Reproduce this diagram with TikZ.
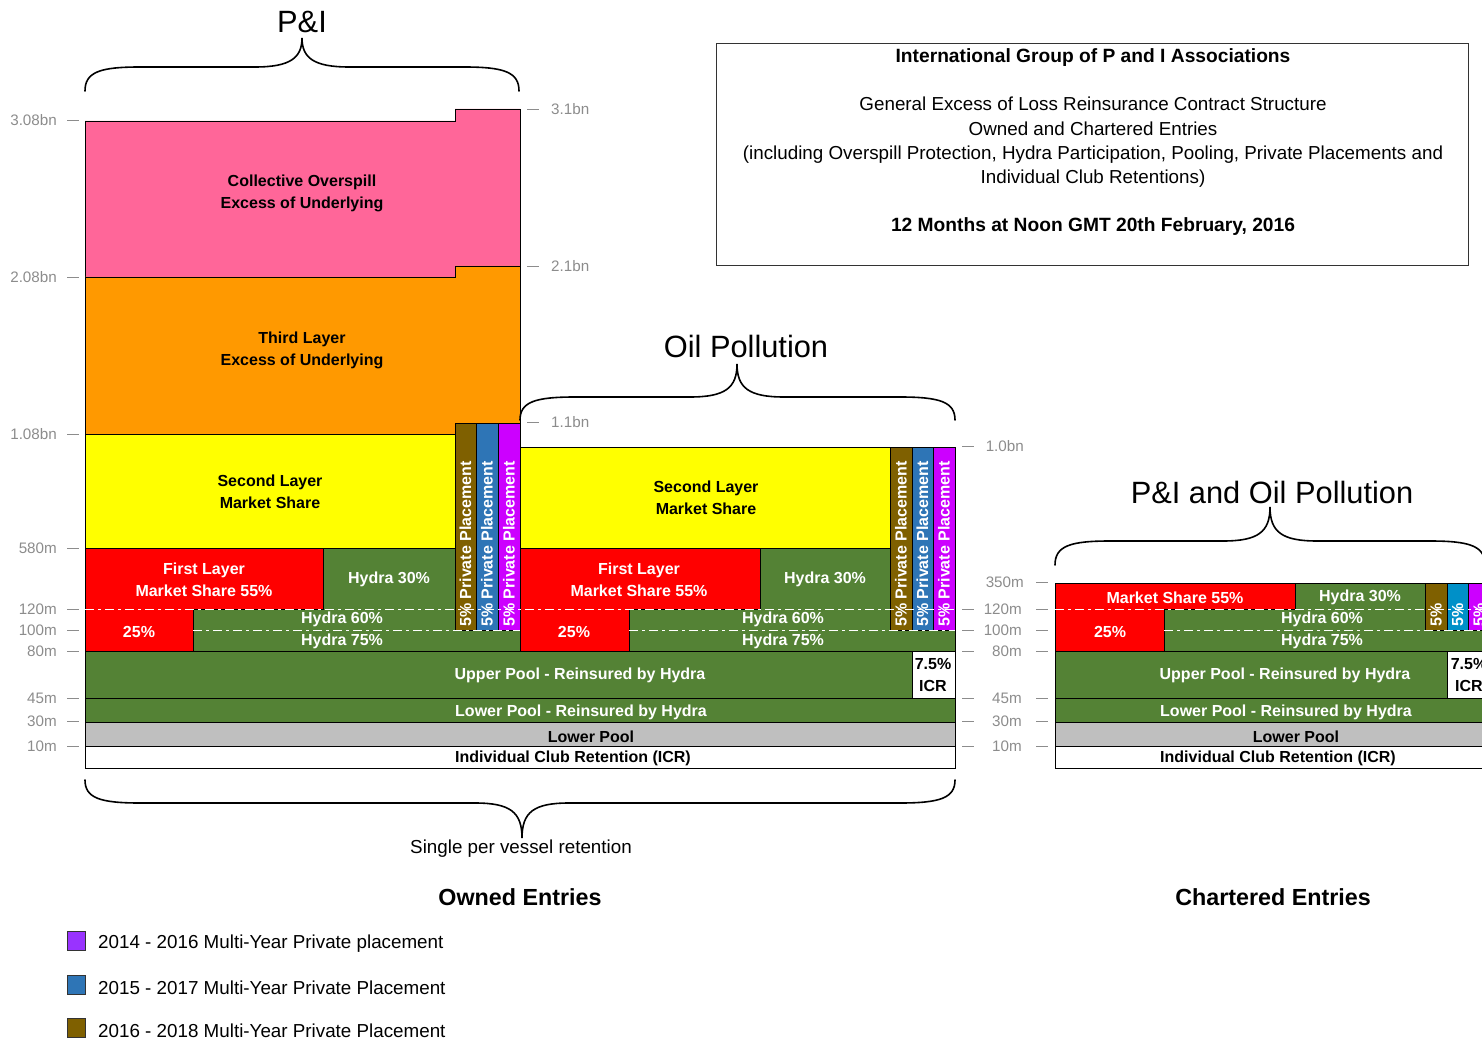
\documentclass[tikz,border=0pt]{standalone}
\usepackage{fontspec}
\setmainfont{Liberation Sans}
\usepackage{tikz}

\definecolor{overspill}{HTML}{FF6699}
\definecolor{thirdlay}{HTML}{FF9900}
\definecolor{secondlay}{HTML}{FFFF00}
\definecolor{firstlay}{HTML}{FF0000}
\definecolor{hydra}{HTML}{548235}
\definecolor{lowpool}{HTML}{BFBFBF}
\definecolor{ppbrown}{HTML}{7F6000}
\definecolor{ppblue}{HTML}{2E75B6}
\definecolor{ppcyan}{HTML}{0090C8}
\definecolor{ppmag}{HTML}{CC00FF}
\definecolor{ppviolet}{HTML}{9933FF}
\definecolor{axisgray}{HTML}{8C8C8C}

\tikzset{
  band/.style={draw=black, line width=0.9pt},
  lbl/.style={font=\bfseries\fontsize{16}{22}\selectfont, align=center, inner sep=0pt, yshift=-1.5pt},
  wlbl/.style={lbl, text=white},
  pplbl/.style={font=\bfseries\fontsize{16}{17}\selectfont, text=white, rotate=90, anchor=west, inner sep=0pt},
  tk/.style={axisgray, line width=0.8pt},
  ax/.style={text=axisgray, font=\fontsize{15.2}{16}\selectfont, inner sep=0pt},
  layercut/.style={white, line width=0.9pt, dash pattern=on 9pt off 4pt on 3pt off 4pt},
  brc/.style={line width=1.6pt, line cap=round},
  ttl/.style={font=\fontsize{30.8}{32}\selectfont, inner sep=0pt, yshift=-1.5pt},
  sub/.style={font=\fontsize{18.8}{24.3}\selectfont, align=center, inner sep=0pt, yshift=-2.5pt},
  bsub/.style={sub, font=\bfseries\fontsize{19.2}{24.3}\selectfont},
}

\begin{document}
\begin{tikzpicture}[x=1pt, y=-1pt]
    \useasboundingbox (0,0) rectangle (1482,1040);

    % P&I column
    \draw[band, fill=overspill] (85,121) -- (455,121) -- (455,109) -- (520,109) -- (520,266) -- (455,266) -- (455,277) -- (85,277) -- cycle;
    \draw[band, fill=thirdlay] (85,277) -- (455,277) -- (455,266) -- (520,266) -- (520,423) -- (455,423) -- (455,434) -- (85,434) -- cycle;
    \draw[band, fill=secondlay] (85,434) rectangle (455,548);
    \draw[band, fill=firstlay] (85,548) -- (323,548) -- (323,609) -- (193,609) -- (193,651) -- (85,651) -- cycle;
    \draw[band, fill=hydra] (323,548) -- (455,548) -- (455,630) -- (520,630) -- (520,651) -- (193,651) -- (193,609) -- (323,609) -- cycle;

    % Oil pollution column
    \draw[band, fill=secondlay] (520,447) rectangle (890,548);
    \draw[band, fill=firstlay] (520,548) -- (760,548) -- (760,609) -- (629,609) -- (629,651) -- (520,651) -- cycle;
    \draw[band, fill=hydra] (760,548) -- (890,548) -- (890,630) -- (955,630) -- (955,651) -- (629,651) -- (629,609) -- (760,609) -- cycle;

    % private placements
    \foreach \a/\b/\t/\c in {455/476/423/ppbrown, 476/498/423/ppblue, 498/520/423/ppmag,
                             890/912/447/ppbrown, 912/933/447/ppblue, 933/955/447/ppmag}
        \draw[band, fill=\c] (\a,\t) rectangle (\b,630);

    % pools and retention
    \draw[band, fill=hydra] (85,651) rectangle (912,698);
    \draw[band, fill=white] (912,651) rectangle (955,698);
    \draw[band, fill=hydra] (85,698) rectangle (955,722);
    \draw[band, fill=lowpool] (85,722) rectangle (955,746);
    \draw[band, fill=white] (85,746) rectangle (955,768);

    \draw[layercut] (85,609) -- (955,609);
    \draw[layercut] (193,630) -- (520,630);
    \draw[layercut] (629,630) -- (955,630);

    % chartered entries
    \draw[band, fill=firstlay] (1055,583) -- (1295,583) -- (1295,609) -- (1164,609) -- (1164,651) -- (1055,651) -- cycle;
    \draw[band, fill=hydra] (1295,583) -- (1425,583) -- (1425,630) -- (1495,630) -- (1495,651) -- (1164,651) -- (1164,609) -- (1295,609) -- cycle;
    \foreach \a/\b/\c in {1425/1447/ppbrown, 1447/1468/ppcyan, 1468/1490/ppmag}
        \draw[band, fill=\c] (\a,583) rectangle (\b,630);
    \draw[band, fill=hydra] (1055,651) rectangle (1447,698);
    \draw[band, fill=white] (1447,651) rectangle (1495,698);
    \draw[band, fill=hydra] (1055,698) rectangle (1495,722);
    \draw[band, fill=lowpool] (1055,722) rectangle (1495,746);
    \draw[band, fill=white] (1055,746) rectangle (1495,768);
    \draw[layercut] (1055,609) -- (1495,609);
    \draw[layercut] (1164,630) -- (1495,630);

    % labels owned
    \node[lbl] (cov) at (302,192) {Collective Overspill\\Excess of Underlying};
    \node[lbl] (tl) at (302,349) {Third Layer\\Excess of Underlying};
    \node[lbl] (sl) at (270,490) {Second Layer\\Market Share};
    \node[lbl] (osl) at (706,496) {Second Layer\\Market Share};
    \node[wlbl] (fl) at (204,578) {First Layer\\Market Share 55\%};
    \node[wlbl] (ofl) at (639,578) {First Layer\\Market Share 55\%};
    \node[wlbl] (h30) at (389,578) {Hydra 30\%};
    \node[wlbl] (oh30) at (825,578) {Hydra 30\%};
    \node[wlbl] (h60) at (342,618) {Hydra 60\%};
    \node[wlbl] (oh60) at (783,618) {Hydra 60\%};
    \node[wlbl] (h75) at (342,640) {Hydra 75\%};
    \node[wlbl] (oh75) at (783,640) {Hydra 75\%};
    \node[wlbl] (q25) at (139,630) {25\%};
    \node[wlbl] (oq25) at (574,630) {25\%};
    \node[wlbl] (up) at (580,674) {Upper Pool - Reinsured by Hydra};
    \node[lbl] (icr) at (933,674) {7.5\%\\ICR};
    \node[wlbl] (lpr) at (581,711) {Lower Pool - Reinsured by Hydra};
    \node[lbl] (lp) at (591,735) {Lower Pool};
    \node[lbl] (ret) at (573,757) {Individual Club Retention (ICR)};
    \foreach \x [count=\i] in {465.5, 487, 509, 901, 922.5, 944}
        \node[pplbl] (pp\i) at (\x,627) {5\% Private Placement};

    % labels chartered
    \node[wlbl] (cms) at (1175,596) {Market Share 55\%};
    \node[wlbl] (ch30) at (1360,596) {Hydra 30\%};
    \node[wlbl] (ch60) at (1322,618) {Hydra 60\%};
    \node[wlbl] (ch75) at (1322,640) {Hydra 75\%};
    \node[wlbl] (cq25) at (1110,630) {25\%};
    \node[wlbl] (cup) at (1285,674) {Upper Pool - Reinsured by Hydra};
    \node[lbl] (cicr) at (1469,674) {7.5\%\\ICR};
    \node[wlbl] (clpr) at (1286,711) {Lower Pool - Reinsured by Hydra};
    \node[lbl] (clp) at (1296,735) {Lower Pool};
    \node[lbl] (cret) at (1278,757) {Individual Club Retention (ICR)};
    \foreach \x [count=\i] in {1436, 1457.5, 1479}
        \node[pplbl] (cpp\i) at (\x,627) {5\%};

    % axes
    \foreach \y/\t in {120/3.08bn, 277/2.08bn, 434/1.08bn, 548/580m, 609/120m, 630/100m, 651/80m, 698/45m, 721/30m, 746/10m} {
        \draw[tk] (67,\y) -- (79,\y);
        \node[ax, anchor=east] (la\y) at (57,\y) {\t};
    }
    \foreach \y/\t in {109/3.1bn, 266/2.1bn, 422/1.1bn} {
        \draw[tk] (527,\y) -- (539,\y);
        \node[ax, anchor=west] (ma\y) at (551,\y) {\t};
    }
    \draw[tk] (962,446) -- (974,446);
    \node[ax, anchor=east] (ra446) at (1024,446) {1.0bn};
    \draw[tk] (1036,582) -- (1048,582);
    \node[ax, anchor=east] (ra582) at (1024,582) {350m};
    \foreach \y/\t in {609/120m, 630/100m, 651/80m, 698/45m, 721/30m, 746/10m} {
        \draw[tk] (962,\y) -- (974,\y);
        \draw[tk] (1036,\y) -- (1048,\y);
        \node[ax, anchor=east] (ra\y) at (1022,\y) {\t};
    }

    % braces
    \draw[brc] (85,91) .. controls (85,72) and (100,67) .. (140,67) -- (255,67) .. controls (290,67) and (302,58) .. (302,38)
        .. controls (302,58) and (314,67) .. (349,67) -- (464,67) .. controls (504,67) and (519,72) .. (519,91);
    \draw[brc] (520,420) .. controls (520,402) and (535,397) .. (575,397) -- (690,397) .. controls (725,397) and (737,388) .. (737,364)
        .. controls (737,388) and (749,397) .. (784,397) -- (900,397) .. controls (940,397) and (955,402) .. (955,420);
    \draw[brc] (1055,565) .. controls (1055,546) and (1070,541) .. (1110,541) -- (1223,541) .. controls (1258,541) and (1270,532) .. (1270,507)
        .. controls (1270,532) and (1282,541) .. (1317,541) -- (1430,541) .. controls (1470,541) and (1485,546) .. (1485,565);
    \draw[brc] (85,780) .. controls (85,798) and (100,803) .. (140,803) -- (475,803) .. controls (510,803) and (522,812) .. (522,838)
        .. controls (522,812) and (534,803) .. (569,803) -- (900,803) .. controls (940,803) and (955,798) .. (955,780);

    \node[ttl] (pi) at (302,20) {P\&I};
    \node[ttl] (oil) at (746,345) {Oil Pollution};
    \node[ttl] (pioil) at (1272,491) {P\&I and Oil Pollution};
    \node[sub] (spv) at (521,846) {Single per vessel retention};
    \node[sub, font=\bfseries\fontsize{23.3}{26}\selectfont] (own) at (520,895) {Owned Entries};
    \node[sub, font=\bfseries\fontsize{23.3}{26}\selectfont] (chart) at (1273,895) {Chartered Entries};

    % title box
    \draw[line width=0.9pt, black!80] (716,43) rectangle (1468,265);
    \node[bsub] (hd1) at (1093,55) {International Group of P and I Associations};
    \node[sub] (hd2) at (1093,140) {General Excess of Loss Reinsurance Contract Structure\\Owned and Chartered Entries\\(including Overspill Protection, Hydra Participation, Pooling, Private Placements and\\Individual Club Retentions)};
    \node[bsub] (hd3) at (1093,224) {12 Months at Noon GMT 20th February, 2016};

    % legend
    \foreach \c/\y/\t [count=\i] in {ppviolet/941/2014 - 2016 Multi-Year Private placement,
                                     ppblue/985/2015 - 2017 Multi-Year Private Placement,
                                     ppbrown/1028/2016 - 2018 Multi-Year Private Placement} {
        \draw[line width=0.9pt, black!80, fill=\c] (67,{\y-9.5}) rectangle (85,{\y+9.5});
        \node[sub, anchor=west] (leg\i) at (98,\y) {\t};
    }
\end{tikzpicture}
\end{document}
